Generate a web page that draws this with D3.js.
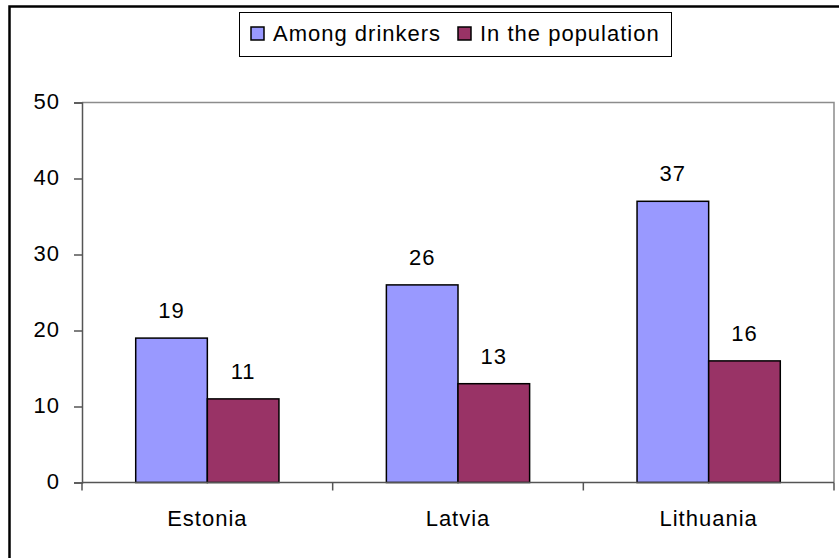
<!DOCTYPE html>
<html lang="en">
<head>
    <meta charset="UTF-8">
    <title>Among drinkers vs in the population</title>
    <style>
        body {
            margin: 0;
            padding: 0;
            background: #fff;
        }
        svg {
            display: block;
            font-family: "Liberation Sans", Arial, sans-serif;
        }
        .lbl {
            font-size: 22px;
            letter-spacing: 1px;
            fill: #000;
        }
    </style>
</head>
<body>
    <svg id="chart"></svg>
    <script src="https://d3js.org/d3.v7.min.js"></script>
    <script>
        // data
        const countries = ["Estonia", "Latvia", "Lithuania"];
        const seriesNames = ["Among drinkers", "In the population"];
        const amongDrinkers = [19, 26, 37];
        const inPopulation = [11, 13, 16];
        const yTicks = [0, 10, 20, 30, 40, 50];

        const width = 839;
        const height = 558;
        const plot = { left: 82, right: 834, top: 102.5, bottom: 482.5 };
        const colors = ["#9999FF", "#993366"];

        const svg = d3.select("#chart")
            .attr("width", width)
            .attr("height", height);

        // outer chart frame (runs off the right/bottom edge)
        svg.append("rect")
            .attr("x", 9.5).attr("y", 6.5)
            .attr("width", 900).attr("height", 700)
            .attr("fill", "#fff")
            .attr("stroke", "#000")
            .attr("stroke-width", 2.5);

        const x0 = d3.scaleBand()
            .domain(countries)
            .range([plot.left, plot.right]);

        const x1 = d3.scaleBand()
            .domain(seriesNames)
            .range([0, x0.bandwidth()])
            .paddingInner(0)
            .paddingOuter(0.75);

        const y = d3.scaleLinear()
            .domain([0, 50])
            .range([plot.bottom, plot.top]);

        // plot area border (top and right, gray)
        svg.append("path")
            .attr("d", `M${plot.left},${plot.top}H${plot.right}V${plot.bottom}`)
            .attr("fill", "none")
            .attr("stroke", "#8c8c8c")
            .attr("stroke-width", 1.5);

        // bars
        const rows = countries.map((c, i) => ({
            country: c,
            values: [amongDrinkers[i], inPopulation[i]]
        }));

        const groups = svg.append("g")
            .selectAll("g")
            .data(rows)
            .enter().append("g")
            .attr("transform", d => `translate(${x0(d.country)},0)`);

        groups.selectAll("rect")
            .data(d => d.values.map((v, j) => ({ name: seriesNames[j], value: v, j: j })))
            .enter().append("rect")
            .attr("x", d => x1(d.name))
            .attr("y", d => y(d.value))
            .attr("width", x1.bandwidth())
            .attr("height", d => y(0) - y(d.value))
            .attr("fill", d => colors[d.j])
            .attr("stroke", "#000")
            .attr("stroke-width", 1.5);

        groups.selectAll("text")
            .data(d => d.values.map((v, j) => ({ name: seriesNames[j], value: v })))
            .enter().append("text")
            .attr("class", "lbl")
            .attr("text-anchor", "middle")
            .attr("x", d => x1(d.name) + x1.bandwidth() / 2)
            .attr("y", d => y(d.value) - 20)
            .text(d => d.value);

        // y axis
        const yAxis = svg.append("g")
            .attr("transform", `translate(${plot.left},0)`)
            .call(d3.axisLeft(y).tickValues(yTicks).tickSize(8).tickPadding(14));
        yAxis.select(".domain").attr("stroke", "#555").attr("stroke-width", 1.5);
        yAxis.selectAll(".tick line").attr("stroke", "#555").attr("stroke-width", 1.5);
        yAxis.selectAll(".tick text")
            .attr("class", "lbl")
            .attr("font-family", null).attr("font-size", null)
            .attr("dy", "0.28em");

        // x axis (ticks between categories)
        const xAxis = svg.append("g")
            .attr("transform", `translate(0,${plot.bottom})`);
        xAxis.append("line")
            .attr("x1", plot.left).attr("x2", plot.right)
            .attr("stroke", "#555").attr("stroke-width", 1.5);
        const boundaries = countries.map(c => x0(c)).concat([plot.right]);
        xAxis.selectAll("line.tk")
            .data(boundaries)
            .enter().append("line")
            .attr("class", "tk")
            .attr("x1", d => d).attr("x2", d => d)
            .attr("y1", 0).attr("y2", 8)
            .attr("stroke", "#555").attr("stroke-width", 1.5);
        xAxis.selectAll("text")
            .data(countries)
            .enter().append("text")
            .attr("class", "lbl")
            .attr("text-anchor", "middle")
            .attr("x", d => x0(d) + x0.bandwidth() / 2)
            .attr("y", 43.5)
            .text(d => d);

        // legend
        const legend = svg.append("g");
        legend.append("rect")
            .attr("x", 239.5).attr("y", 12.5)
            .attr("width", 432).attr("height", 44)
            .attr("fill", "#fff")
            .attr("stroke", "#000")
            .attr("stroke-width", 1);
        const legendX = [251, 458];
        const items = legend.selectAll("g")
            .data(seriesNames)
            .enter().append("g")
            .attr("transform", (d, i) => `translate(${legendX[i]},27)`);
        items.append("rect")
            .attr("width", 13).attr("height", 13)
            .attr("fill", (d, i) => colors[i])
            .attr("stroke", "#000")
            .attr("stroke-width", 1.5);
        items.append("text")
            .attr("class", "lbl")
            .attr("x", 22)
            .attr("y", 14)
            .text(d => d);
    </script>
</body>
</html>
